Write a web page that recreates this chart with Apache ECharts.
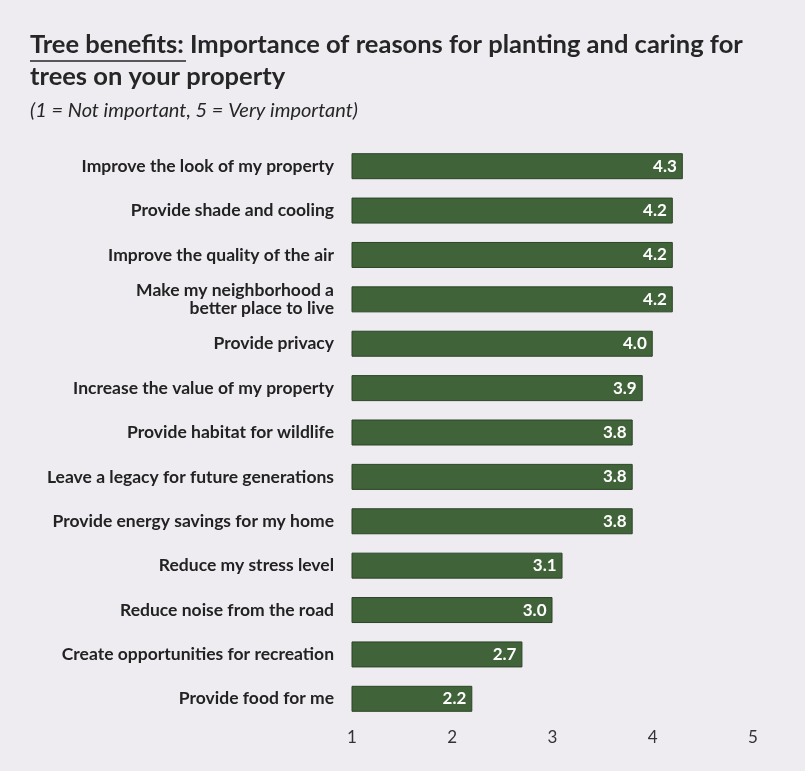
<!DOCTYPE html>
<html>
<head>
<meta charset="utf-8">
<script src="https://cdn.jsdelivr.net/npm/echarts@6/dist/echarts.min.js"></script>
<style>
  html, body { margin: 0; padding: 0; background: #eeecf1; }
  #chart { width: 805px; height: 771px; }
</style>
</head>
<body>
<div id="chart"></div>
<script>
// Survey reasons, top to bottom
const categories = [
  'Improve the look of my property',
  'Provide shade and cooling',
  'Improve the quality of the air',
  'Make my neighborhood a\nbetter place to live',
  'Provide privacy',
  'Increase the value of my property',
  'Provide habitat for wildlife',
  'Leave a legacy for future generations',
  'Provide energy savings for my home',
  'Reduce my stress level',
  'Reduce noise from the road',
  'Create opportunities for recreation',
  'Provide food for me'
];
// Mean importance score (1-5 scale)
const scores = [4.3, 4.2, 4.2, 4.2, 4.0, 3.9, 3.8, 3.8, 3.8, 3.1, 3.0, 2.7, 2.2];
const tickValues = [1, 2, 3, 4, 5];

const chart = echarts.init(document.getElementById('chart'));
const FONT = 'Lato, "Open Sans", sans-serif';

chart.setOption({
  backgroundColor: '#eeecf1',
  animation: false,
  title: [
    {
      left: 25, top: 24,
      text: 'Tree benefits: Importance of reasons for planting and caring for\ntrees on your property',
      textStyle: {
        fontFamily: FONT, fontSize: 25.5, fontWeight: 'bold', color: '#262626', lineHeight: 32
      }
    },
    {
      left: 25, top: 96,
      text: '(1 = Not important, 5 = Very important)',
      textStyle: { fontFamily: FONT, fontSize: 20, fontStyle: 'italic', fontWeight: 'normal', color: '#262626' }
    }
  ],
  graphic: [
    // underline beneath the "Tree benefits:" lead-in
    { type: 'line', shape: { x1: 30, y1: 61, x2: 186, y2: 61 }, style: { stroke: '#262626', lineWidth: 1.5 } }
  ],
  grid: { left: 352, right: 52, top: 144, bottom: 50, containLabel: false },
  xAxis: {
    type: 'value', min: tickValues[0], max: tickValues[tickValues.length - 1], interval: 1,
    axisLine: { show: false }, axisTick: { show: false }, splitLine: { show: false },
    axisLabel: { fontFamily: FONT, fontSize: 17, color: '#333', margin: 8 }
  },
  yAxis: {
    type: 'category', data: categories, inverse: true,
    axisLine: { show: false }, axisTick: { show: false },
    axisLabel: { fontFamily: FONT, fontSize: 17.5, fontWeight: 'bold', color: '#222', margin: 18, lineHeight: 18, align: 'right' }
  },
  series: [{
    type: 'bar', data: scores, barWidth: 26,
    itemStyle: { color: '#416339', borderColor: '#2b4527', borderWidth: 1 },
    label: {
      show: true, position: 'insideRight', distance: 6,
      formatter: p => p.value.toFixed(1),
      fontFamily: FONT, fontSize: 17, fontWeight: 'bold', color: '#ffffff'
    }
  }]
});
</script>
</body>
</html>
